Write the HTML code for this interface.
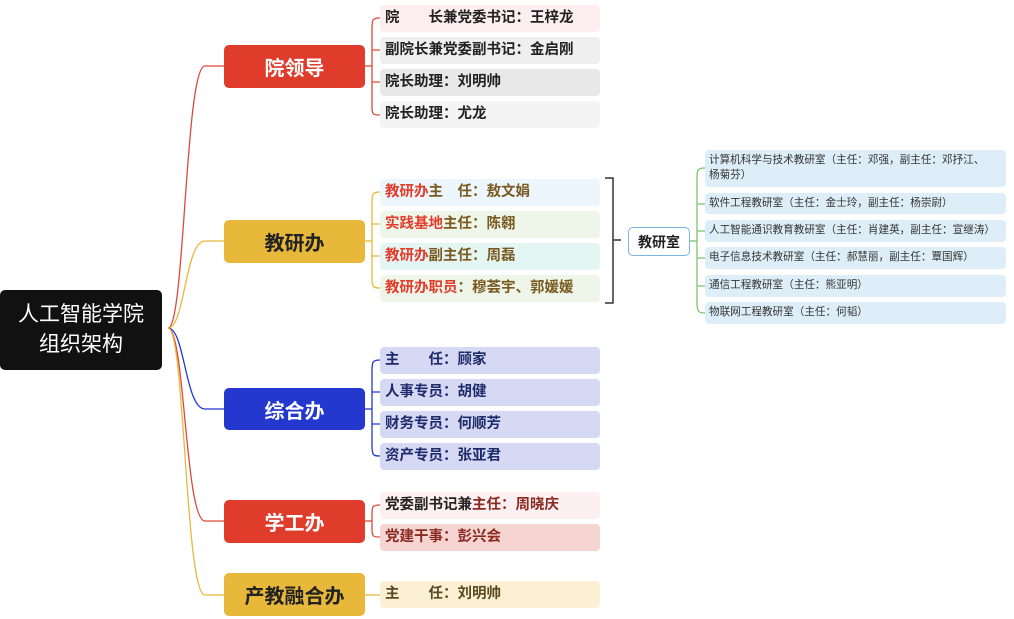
<!DOCTYPE html>
<html><head><meta charset="utf-8"><style>
body{margin:0;width:1014px;height:619px;background:#fff;position:relative;overflow:hidden;font-family:"Liberation Sans","Noto Sans CJK SC",sans-serif}
.b{position:absolute;display:flex;align-items:center;justify-content:center;border-radius:5px;font-weight:bold}
.l{position:absolute;left:380px;width:220px;height:27px;border-radius:4px;font-size:14.5px;font-weight:bold;color:#222;line-height:27px;padding-left:5px;box-sizing:border-box;white-space:nowrap}
.r{position:absolute;left:705px;width:301px;border-radius:4px;background:#ddeef8;font-size:10.6px;color:#333;line-height:15px;padding:3px 4px;box-sizing:border-box;white-space:nowrap}
.red{color:#e23b2a}.br{color:#7a5a20}
</style></head><body>
<svg width="1014" height="619" style="position:absolute;left:0;top:0" fill="none" stroke-width="1.3">
<path d="M168 328 C185 328,185 66,205 66 L224 66" stroke="#d94a3c"/>
<path d="M168 328 C185 328,185 241,205 241 L224 241" stroke="#e8b83a"/>
<path d="M168 328 C185 328,185 409,205 409 L224 409" stroke="#2438d0"/>
<path d="M168 328 C185 328,185 521,205 521 L224 521" stroke="#d94a3c"/>
<path d="M168 328 C185 328,185 595,205 595 L224 595" stroke="#e8b83a"/>
<g stroke="#d94a3c"><path d="M365 66 H372"/><path d="M380 18 C372 18,372 20,372 30 V108 C372 115,374 115,380 115"/><path d="M372 50 H380 M372 82 H380"/></g>
<g stroke="#e8b83a"><path d="M365 241 H372"/><path d="M380 192 C372 192,372 194,372 204 V278 C372 288,374 288,380 288"/><path d="M372 224 H380 M372 256 H380"/></g>
<g stroke="#2438d0"><path d="M365 409 H372"/><path d="M380 360 C372 360,372 362,372 372 V446 C372 456,374 456,380 456"/><path d="M372 392 H380 M372 424 H380"/></g>
<g stroke="#d94a3c"><path d="M365 521 H372"/><path d="M380 505 C372 505,372 507,372 515 V530 C372 537,374 537,380 537"/></g>
<path d="M365 595 H380" stroke="#e8b83a"/>
<path d="M605 178 H613 V303 H605 M613 240 H621" stroke="#333" stroke-width="1.5"/>
<g stroke="#7cc36a"><path d="M690 241 H697"/><path d="M705 168 C697 168,697 170,697 180 V303 C697 312,699 313,705 313"/><path d="M697 204 H705 M697 231 H705 M697 258 H705 M697 286 H705"/></g>
</svg>
<div class="b" style="left:0;top:290px;width:162px;height:80px;background:#111;color:#fff;font-size:21px;line-height:30px;text-align:center;font-weight:normal">人工智能学院<br>组织架构</div>
<div class="b" style="left:224px;top:45px;width:141px;height:43px;background:#e03c2c;color:#fff;font-size:20px">院领导</div>
<div class="b" style="left:224px;top:220px;width:141px;height:43px;background:#e8b83a;color:#222;font-size:20px">教研办</div>
<div class="b" style="left:224px;top:388px;width:141px;height:42px;background:#2438d0;color:#fff;font-size:20px">综合办</div>
<div class="b" style="left:224px;top:500px;width:141px;height:43px;background:#e03c2c;color:#fff;font-size:20px">学工办</div>
<div class="b" style="left:224px;top:573px;width:141px;height:43px;background:#e8b83a;color:#222;font-size:20px">产教融合办</div>
<div class="l" style="top:5px;background:#fdeef2">院&emsp;&emsp;长兼党委书记：王梓龙</div>
<div class="l" style="top:37px;background:#efefef">副院长兼党委副书记：金启刚</div>
<div class="l" style="top:69px;background:#e8e8e8">院长助理：刘明帅</div>
<div class="l" style="top:101px;background:#f4f4f4">院长助理：尤龙</div>
<div class="l br" style="top:179px;background:#ecf6fc"><span class="red">教研办</span>主&emsp;任：敖文娟</div>
<div class="l br" style="top:211px;background:#eef6ea"><span class="red">实践基地</span>主任：陈翱</div>
<div class="l br" style="top:243px;background:#e4f6f4"><span class="red">教研办</span>副主任：周磊</div>
<div class="l br" style="top:275px;background:#eef6ea"><span class="red">教研办职员</span>：穆荟宇、郭媛媛</div>
<div class="l" style="top:347px;background:#d6d9f4;color:#1e2a6a">主&emsp;&emsp;任：顾家</div>
<div class="l" style="top:379px;background:#d6d9f4;color:#1e2a6a">人事专员：胡健</div>
<div class="l" style="top:411px;background:#d6d9f4;color:#1e2a6a">财务专员：何顺芳</div>
<div class="l" style="top:443px;background:#d6d9f4;color:#1e2a6a">资产专员：张亚君</div>
<div class="l" style="top:492px;background:#fdf0f2">党委副书记兼<span style="color:#8a2a20">主任：周晓庆</span></div>
<div class="l" style="top:524px;background:#f6d4d2;color:#8a2a20">党建干事：彭兴会</div>
<div class="l" style="top:581px;background:#fbf0d4;color:#5a4a20">主&emsp;&emsp;任：刘明帅</div>
<div class="b" style="left:628px;top:227px;width:60px;height:27px;background:#fff;border:1.5px solid #7ab4e0;font-size:14px;color:#222">教研室</div>
<div class="r" style="top:150px;height:37px">计算机科学与技术教研室（主任：邓强，副主任：邓抒江、<br>杨菊芬）</div>
<div class="r" style="top:193px;height:21px">软件工程教研室（主任：金士玲，副主任：杨崇尉）</div>
<div class="r" style="top:220px;height:22px">人工智能通识教育教研室（主任：肖建英，副主任：宣继涛）</div>
<div class="r" style="top:247px;height:22px">电子信息技术教研室（主任：郝慧丽，副主任：覃国辉）</div>
<div class="r" style="top:275px;height:22px">通信工程教研室（主任：熊亚明）</div>
<div class="r" style="top:302px;height:22px">物联网工程教研室（主任：何韬）</div>
</body></html>
